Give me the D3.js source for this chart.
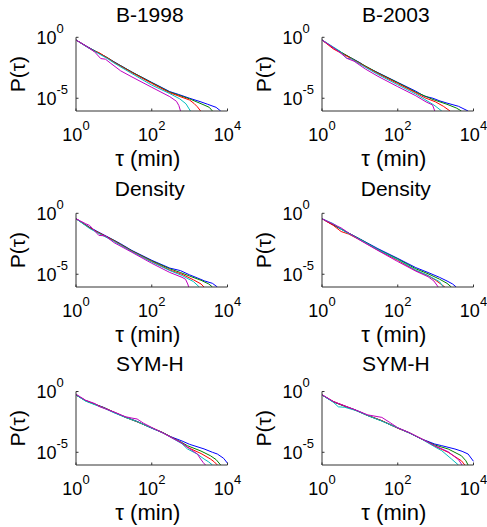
<!DOCTYPE html>
<html><head><meta charset="utf-8">
<script src="https://cdn.jsdelivr.net/npm/d3@7"></script>
<style>html,body{margin:0;padding:0;background:#fff;}svg{display:block;}</style>
</head><body>
<div id="chart"></div>
<script>
// ---- data: [tau (min), P(tau)] ----
const b98_blue = [[1,0.6],[2,0.17],[4,0.05],[7,0.019],[10,0.01],[30,1.4e-3],[100,2.0e-4],[300,3.5e-5],[500,2.1e-5],[1000,1.0e-5],[2000,5.0e-6],[3000,3.2e-6],[5000,1.8e-6],[6600,9e-7]];
const b98_green = [[1,0.6],[2,0.16],[4,0.052],[7,0.02],[10,9.5e-3],[30,1.4e-3],[100,1.9e-4],[300,3.2e-5],[1000,8.9e-6],[2400,2.8e-6],[3300,1.8e-6],[4000,9e-7]];
const b98_red = [[1,0.6],[2,0.16],[3,0.071],[4,0.056],[7,0.019],[10,8.9e-3],[30,1.26e-3],[100,1.66e-4],[300,2.8e-5],[1000,7.1e-6],[1300,3.8e-6],[1600,2.0e-6],[1950,9e-7]];
const b98_cyan = [[1,0.6],[2,0.15],[4,0.045],[7,0.0166],[10,7.9e-3],[30,1.05e-3],[100,1.2e-4],[300,2.4e-5],[550,8.9e-6],[800,3.5e-6],[1050,9e-7]];
const b98_magenta = [[1,0.6],[2,0.16],[3,0.071],[4.5,0.018],[6,0.016],[8,7.9e-3],[15,1.8e-3],[30,5.6e-4],[100,7.9e-5],[300,1.35e-5],[450,5.6e-6],[520,2.5e-6],[575,9e-7]];

const b03_blue = [[1,0.6],[2,0.14],[4,0.038],[10,8.3e-3],[14,4.0e-3],[30,1.26e-3],[100,2.0e-4],[300,3.8e-5],[500,1.5e-5],[850,1.0e-5],[1300,6.0e-6],[2000,4.0e-6],[4000,2.2e-6],[7200,9e-7]];
const b03_green = [[1,0.6],[2,0.14],[4,0.04],[10,7.9e-3],[30,1.2e-3],[100,1.9e-4],[300,3.2e-5],[850,7.9e-6],[2000,3.2e-6],[3500,1.6e-6],[4800,9e-7]];
const b03_red = [[1,0.6],[2,0.11],[3,0.056],[4,0.035],[10,7.1e-3],[30,1.05e-3],[100,1.6e-4],[300,2.8e-5],[520,1.1e-5],[1000,5.0e-6],[1600,2.2e-6],[2400,9e-7]];
const b03_cyan = [[1,0.6],[2,0.16],[3,0.071],[4.5,0.019],[6,0.0166],[10,6.3e-3],[30,8.9e-4],[100,1.26e-4],[300,2.2e-5],[520,7.9e-6],[900,2.8e-6],[1450,9e-7]];
const b03_magenta = [[1,0.6],[2,0.14],[3,0.056],[4.5,0.019],[7,0.011],[14,2.5e-3],[30,6.3e-4],[100,8.9e-5],[300,1.6e-5],[560,5.0e-6],[830,2.8e-6],[950,9e-7]];

const dl_blue = [[1,0.36],[2.3,0.071],[4,0.028],[10,6.3e-3],[15,3.2e-3],[30,8.9e-4],[100,1.4e-4],[300,3.2e-5],[570,2.0e-5],[1000,8.9e-6],[1600,5.0e-6],[2500,2.8e-6],[4000,1.8e-6],[5400,9e-7]];
const dl_green = [[1,0.36],[2.3,0.066],[4,0.025],[10,6.0e-3],[30,8.3e-4],[100,1.26e-4],[300,2.8e-5],[570,1.4e-5],[1000,7.1e-6],[2000,3.2e-6],[3200,1.6e-6],[4000,9e-7]];
const dl_red = [[1,0.36],[2.3,0.063],[4,0.025],[10,5.6e-3],[30,7.6e-4],[100,1.1e-4],[300,2.2e-5],[630,1.0e-5],[1260,3.5e-6],[2000,1.6e-6],[2400,9e-7]];
const dl_cyan = [[1,0.36],[2.3,0.056],[4,0.022],[10,5.0e-3],[30,7.1e-4],[100,1.0e-4],[300,2.0e-5],[630,7.9e-6],[1260,2.5e-6],[1800,9e-7]];
const dl_magenta = [[1,0.36],[1.8,0.14],[2.3,0.1],[4,0.0155],[6,0.014],[10,4.0e-3],[30,6.3e-4],[100,7.9e-5],[300,1.4e-5],[630,5.6e-6],[780,3.9e-6],[890,1.6e-6],[950,9e-7]];

const dr_blue = [[1,0.36],[2,0.11],[4,0.035],[10,7.9e-3],[30,1.26e-3],[100,2.0e-4],[300,3.5e-5],[630,1.4e-5],[1260,5.6e-6],[2000,2.8e-6],[2800,1.6e-6],[3500,9e-7]];
const dr_green = [[1,0.36],[2,0.11],[4,0.035],[10,7.6e-3],[30,1.1e-3],[100,1.8e-4],[300,2.8e-5],[630,1.1e-5],[1260,4.0e-6],[2000,1.8e-6],[2600,9e-7]];
const dr_red = [[1,0.36],[2,0.1],[3.2,0.032],[5,0.02],[10,6.6e-3],[30,9.5e-4],[100,1.4e-4],[300,2.0e-5],[630,7.9e-6],[1000,3.2e-6],[1750,9e-7]];
const dr_cyan = [[1,0.36],[2,0.14],[4,0.032],[10,7.1e-3],[30,1.05e-3],[100,1.6e-4],[300,2.2e-5],[630,7.9e-6],[1260,2.5e-6],[1600,9e-7]];
const dr_magenta = [[1,0.36],[3.2,0.063],[5,0.025],[10,6.3e-3],[30,8.9e-4],[100,1.1e-4],[300,1.8e-5],[630,6.3e-6],[900,2.8e-6],[1170,9e-7]];

const sl_blue = [[1,0.52],[1.8,0.18],[3.2,0.09],[5.6,0.047],[10,0.019],[20,8.0e-3],[40,3.6e-3],[100,9.5e-4],[200,4.0e-4],[320,1.9e-4],[630,8.5e-5],[1000,4.5e-5],[2400,1.9e-5],[4000,1.0e-5],[5400,7.2e-6],[7900,3.2e-6],[10000,1.26e-6]];
const sl_green = [[1,0.52],[1.8,0.17],[3.2,0.085],[5.6,0.045],[10,0.02],[20,7.5e-3],[40,3.4e-3],[100,1.0e-3],[200,4.1e-4],[320,1.8e-4],[630,6.3e-5],[870,3.5e-5],[2000,1.26e-5],[3550,5.2e-6],[5000,2.5e-6],[6600,9e-7]];
const sl_red = [[1,0.52],[1.8,0.18],[3.2,0.088],[5.6,0.044],[10,0.02],[20,7.9e-3],[40,3.3e-3],[100,1.05e-3],[200,3.9e-4],[320,1.8e-4],[630,5.6e-5],[870,2.6e-5],[2000,7.9e-6],[3550,2.8e-6],[4500,1.6e-6],[5400,9e-7]];
const sl_cyan = [[1,0.52],[1.8,0.16],[3.2,0.08],[5.6,0.042],[10,0.018],[20,7.5e-3],[40,3.4e-3],[100,1.0e-3],[200,3.8e-4],[320,1.7e-4],[630,5.0e-5],[870,1.9e-5],[1600,7.1e-6],[2400,2.8e-6],[3200,1.6e-6],[4000,9e-7]];
const sl_magenta = [[1,0.6],[1.8,0.19],[3.2,0.1],[4,0.06],[5.6,0.04],[10,0.021],[20,8.5e-3],[30,6.5e-3],[41,5.5e-3],[60,2.5e-3],[100,1.1e-3],[200,3.8e-4],[320,1.7e-4],[630,5.6e-5],[1000,2.0e-5],[1600,7.2e-6],[1950,2.8e-6],[2300,1.4e-6],[2630,9e-7]];

const sr_blue = [[1,0.52],[2,0.14],[4,0.063],[7.6,0.03],[16,0.011],[38,3.9e-3],[100,1.0e-3],[200,4.0e-4],[430,1.23e-4],[950,4.8e-5],[1450,3.5e-5],[3240,1.86e-5],[5000,1.2e-5],[7200,7.2e-6],[10000,1.8e-6]];
const sr_green = [[1,0.52],[2,0.14],[4,0.06],[7.6,0.03],[16,0.0105],[38,3.8e-3],[100,1.0e-3],[200,4.1e-4],[430,1.2e-4],[950,4.0e-5],[2150,1.86e-5],[4800,5.2e-6],[6300,2.0e-6],[7200,9e-7]];
const sr_red = [[1,0.52],[2,0.15],[4,0.065],[7.6,0.029],[16,0.011],[38,4.0e-3],[100,9.5e-4],[200,4.0e-4],[430,1.25e-4],[950,3.2e-5],[2150,1.0e-5],[4800,2.0e-6],[5900,9e-7]];
const sr_cyan = [[1,0.52],[2,0.13],[2.7,0.055],[4,0.05],[7.6,0.028],[16,0.0105],[38,3.7e-3],[100,1.0e-3],[200,3.9e-4],[430,1.2e-4],[950,2.8e-5],[1450,1.35e-5],[2630,2.8e-6],[4000,9e-7]];
const sr_magenta = [[1,0.55],[2,0.15],[4,0.065],[7.6,0.031],[16,0.012],[38,7.4e-3],[60,3.0e-3],[100,1.05e-3],[200,4.2e-4],[430,1.25e-4],[950,3.5e-5],[2150,1.1e-5],[4000,2.5e-6],[5000,9e-7]];

const titles = ["B-1998","B-2003","Density","Density","SYM-H","SYM-H"];
const seriesColors = ["#0000ff","#008000","#ff0000","#00bfbf","#bf00bf"];
const panelSeries = [
  [b98_blue,b98_green,b98_red,b98_cyan,b98_magenta],
  [b03_blue,b03_green,b03_red,b03_cyan,b03_magenta],
  [dl_blue,dl_green,dl_red,dl_cyan,dl_magenta],
  [dr_blue,dr_green,dr_red,dr_cyan,dr_magenta],
  [sl_blue,sl_green,sl_red,sl_cyan,sl_magenta],
  [sr_blue,sr_green,sr_red,sr_cyan,sr_magenta]
];
const xTicks = [1,100,10000];
const xTickExp = ["0","2","4"];
const yTicks = [1,1e-5];
const yTickExp = ["0","-5"];
const xDomain = [1,1e4];
const yDomain = [9e-7,1];

// ---- layout ----
const W = 487, H = 527;
const cols = [{left:76, right:227.5}, {left:322, right:473.5}];
const rows = [{top:37.3, bottom:111, title:21.7}, {top:213.3, bottom:287, title:195.7}, {top:391.5, bottom:465, title:370.7}];
const FONT = "'Liberation Sans', Arial, sans-serif";
const AX = "#333";

const svg = d3.select("#chart").append("svg").attr("width",W).attr("height",H)
  .style("font-family",FONT);

panelSeries.forEach((series, i) => {
  const c = cols[i % 2], r = rows[Math.floor(i / 2)];
  const x = d3.scaleLog().domain(xDomain).range([c.left, c.right]);
  const y = d3.scaleLog().domain(yDomain).range([r.bottom, r.top]);
  const g = svg.append("g");
  const clipId = "clip" + i;
  g.append("clipPath").attr("id", clipId).append("rect")
    .attr("x", c.left).attr("y", r.top - 2).attr("width", c.right - c.left + 1).attr("height", r.bottom - r.top + 2);

  const line = d3.line().x(d => x(d[0])).y(d => y(d[1]));
  const lg = g.append("g").attr("clip-path", `url(#${clipId})`);
  series.forEach((s, k) => {
    lg.append("path").attr("d", line(s)).attr("fill","none")
      .attr("stroke", seriesColors[k]).attr("stroke-width", 1).attr("stroke-linejoin","round");
  });

  // axes lines (MATLAB style, box off)
  g.append("line").attr("x1", c.left).attr("x2", c.left).attr("y1", r.top).attr("y2", r.bottom)
    .attr("stroke", AX).attr("stroke-width", 1);
  g.append("line").attr("x1", c.left).attr("x2", c.right).attr("y1", r.bottom).attr("y2", r.bottom)
    .attr("stroke", AX).attr("stroke-width", 1);

  // x ticks & labels
  xTicks.forEach((t, j) => {
    const px = x(t);
    g.append("line").attr("x1", px).attr("x2", px).attr("y1", r.bottom).attr("y2", r.bottom - 2.5)
      .attr("stroke", AX).attr("stroke-width", 1);
    const tx = g.append("text").attr("x", px).attr("y", r.bottom + 29.7)
      .attr("text-anchor","middle").attr("font-size", 18).attr("fill","#000");
    tx.append("tspan").text("10");
    tx.append("tspan").attr("dy", -10.5).attr("font-size", 13).text(xTickExp[j]);
  });
  // y ticks & labels
  yTicks.forEach((t, j) => {
    const py = y(t);
    g.append("line").attr("x1", c.left).attr("x2", c.left + 2.5).attr("y1", py).attr("y2", py)
      .attr("stroke", AX).attr("stroke-width", 1);
    const ty = g.append("text").attr("x", c.left - 39.5).attr("y", py + 6.5)
      .attr("text-anchor","start").attr("font-size", 18).attr("fill","#000");
    ty.append("tspan").text("10");
    ty.append("tspan").attr("dy", -11).attr("font-size", 13).text(yTickExp[j]);
  });

  // title
  g.append("text").attr("x", (c.left + c.right) / 2 - 2).attr("y", r.title)
    .attr("text-anchor","middle").attr("font-size", 21).attr("fill","#000").text(titles[i]);
  // x label
  g.append("text").attr("x", (c.left + c.right) / 2 - 4).attr("y", r.bottom + 54.5)
    .attr("text-anchor","middle").attr("font-size", 22).attr("fill","#000").text("τ (min)");
  // y label
  const cy = (r.top + r.bottom) / 2;
  g.append("text").attr("transform", `translate(${c.left - 51},${cy}) rotate(-90)`)
    .attr("text-anchor","middle").attr("font-size", 21).attr("fill","#000").text("P(τ)");
});
</script>
</body></html>
